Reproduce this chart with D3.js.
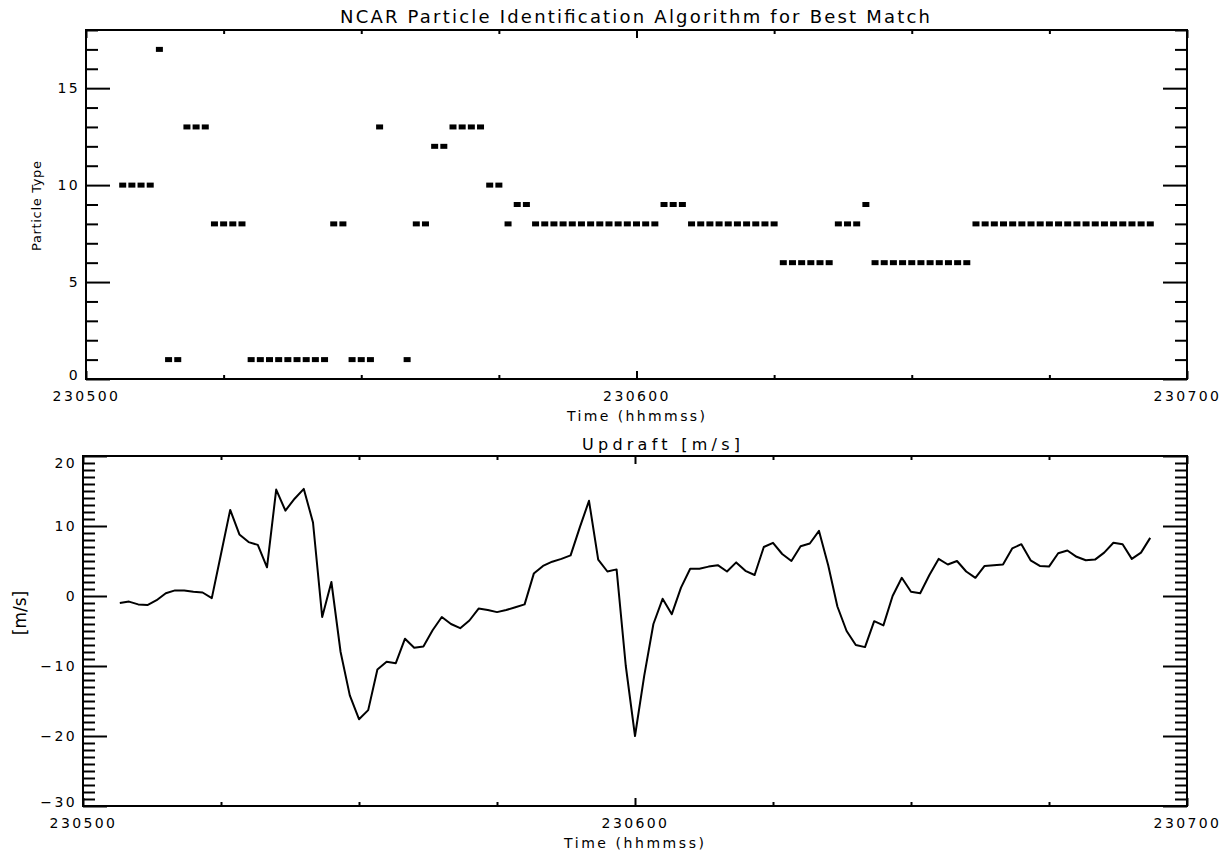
<!DOCTYPE html>
<html lang="en">
<head>
<meta charset="UTF-8">
<title>NCAR Particle Identification Algorithm for Best Match</title>
<script src="https://d3js.org/d3.v7.min.js"></script>
<style>
  body { margin: 0; background: #ffffff; }
  text { font-family: "DejaVu Sans", sans-serif; fill: #000; }
</style>
</head>
<body>
<div id="chart"></div>
<script>

// time is in seconds after 23:05:00
const typeTime = [4, 5, 6, 7, 8, 9, 10, 11, 12, 13, 14, 15, 16, 17, 18, 19, 20, 21, 22, 23, 24, 25, 26, 27, 28, 29, 30, 31, 32,
    35, 36, 37, 38, 39, 40, 41, 42, 43, 44, 45, 46, 47, 48, 49, 50, 51, 52, 53, 54, 55, 56, 57, 58, 59, 60, 61, 62,
    63, 64, 65, 66, 67, 68, 69, 70, 71, 72, 73, 74, 75, 76, 77, 78, 79, 80, 81, 82, 83, 84, 85, 86, 87, 88, 89, 90,
    91, 92, 93, 94, 95, 96, 97, 98, 99, 100, 101, 102, 103, 104, 105, 106, 107, 108, 109, 110, 111, 112, 113, 114, 115, 116];
const typeValue = [10, 10, 10, 10, 17, 1, 1, 13, 13, 13, 8, 8, 8, 8, 1, 1, 1, 1, 1, 1, 1, 1, 1, 8, 8, 1, 1, 1, 13,
    1, 8, 8, 12, 12, 13, 13, 13, 13, 10, 10, 8, 9, 9, 8, 8, 8, 8, 8, 8, 8, 8, 8, 8, 8, 8, 8, 8,
    9, 9, 9, 8, 8, 8, 8, 8, 8, 8, 8, 8, 8, 6, 6, 6, 6, 6, 6, 8, 8, 8, 9, 6, 6, 6, 6, 6,
    6, 6, 6, 6, 6, 6, 8, 8, 8, 8, 8, 8, 8, 8, 8, 8, 8, 8, 8, 8, 8, 8, 8, 8, 8, 8];

const updraftTime = [4, 5, 6, 7, 8, 9, 10, 11, 12, 13, 14, 15, 16, 17, 18, 19, 20, 21, 22, 23, 24, 25, 26, 27, 28, 29, 30,
    31, 32, 33, 34, 35, 36, 37, 38, 39, 40, 41, 42, 43, 44, 45, 46, 47, 48, 49, 50, 51, 52, 53, 54, 55, 56, 57, 58, 59, 60,
    61, 62, 63, 64, 65, 66, 67, 68, 69, 70, 71, 72, 73, 74, 75, 76, 77, 78, 79, 80, 81, 82, 83, 84, 85, 86, 87, 88, 89, 90,
    91, 92, 93, 94, 95, 96, 97, 98, 99, 100, 101, 102, 103, 104, 105, 106, 107, 108, 109, 110, 111, 112, 113, 114, 115, 116];
const updraftValue = [-1.0, -0.8, -1.2, -1.3, -0.6, 0.4, 0.8, 0.8, 0.6, 0.5, -0.3, 6.0, 12.3, 8.8, 7.7, 7.3, 4.1,
    15.2, 12.2, 13.9, 15.3, 10.5, -3.0, 2.0, -8.0, -14.2, -17.6, -16.3, -10.5, -9.4, -9.6, -6.1, -7.4, -7.2, -4.9,
    -3.0, -4.0, -4.6, -3.5, -1.8, -2.0, -2.3, -2.0, -1.6, -1.2, 3.2, 4.3, 4.9, 5.3, 5.8, 9.8, 13.6, 5.2, 3.5, 3.8,
    -10.0, -20.0, -11.4, -4.0, -0.4, -2.6, 1.2, 3.9, 3.9, 4.2, 4.4, 3.5, 4.8, 3.6, 3.0, 7.0, 7.6, 6.0, 5.0, 7.1,
    7.5, 9.3, 4.4, -1.5, -5.0, -7.0, -7.3, -3.6, -4.2, 0.0, 2.6, 0.6, 0.4, 3.0, 5.3, 4.5, 5.0, 3.5, 2.6, 4.3,
    4.4, 4.5, 6.8, 7.4, 5.1, 4.3, 4.2, 6.1, 6.5, 5.6, 5.1, 5.2, 6.2, 7.6, 7.4, 5.3, 6.2, 8.3];

const timeTicks = [0, 60, 120];
const timeLabels = ["230500", "230600", "230700"];
const timeMinor = [15, 30, 45, 75, 90, 105];
const typeTicks = [0, 5, 10, 15];
const updraftTicks = [-30, -20, -10, 0, 10, 20];

const width = 1228, height = 852;

const svg = d3.select("#chart")
    .append("svg")
    .attr("width", width)
    .attr("height", height);

// draws the frame, ticks and labels of one panel and returns its scales
function panel(box, yDomain, yMajor, yStep) {
    const x = d3.scaleLinear().domain([0, 120]).range([box.left, box.right]);
    const y = d3.scaleLinear().domain(yDomain).range([box.bottom, box.top]);
    const yMinor = d3.range(yDomain[0], yDomain[1] + 0.001, yStep).filter(v => !yMajor.includes(v));

    const g = svg.append("g");

    const ax = (sel) => sel.attr("font-size", 14)
        .attr("font-family", '"DejaVu Sans", sans-serif')
        .attr("letter-spacing", "2.4px")
        .call(s => s.selectAll("line").attr("stroke", "#000").attr("stroke-width", 2))
        .call(s => s.select(".domain").remove());

    // x ticks, bottom and top
    g.append("g").attr("transform", `translate(0,${box.bottom})`)
        .call(d3.axisBottom(x).tickValues(timeMinor).tickSize(-4).tickFormat("")).call(ax);
    g.append("g").attr("transform", `translate(0,${box.bottom})`)
        .call(d3.axisBottom(x).tickValues(timeTicks).tickSize(-8).tickPadding(12)
            .tickFormat((d, i) => timeLabels[i])).call(ax);
    g.append("g").attr("transform", `translate(0,${box.top})`)
        .call(d3.axisTop(x).tickValues(timeMinor).tickSize(-4).tickFormat("")).call(ax);
    g.append("g").attr("transform", `translate(0,${box.top})`)
        .call(d3.axisTop(x).tickValues(timeTicks).tickSize(-8).tickFormat("")).call(ax);

    // y ticks, left and right
    g.append("g").attr("transform", `translate(${box.left},0)`)
        .call(d3.axisLeft(y).tickValues(yMinor).tickSize(-12).tickFormat("")).call(ax);
    g.append("g").attr("transform", `translate(${box.left},0)`)
        .call(d3.axisLeft(y).tickValues(yMajor).tickSize(-24).tickPadding(6)
            .tickFormat(d => d < 0 ? "\u2212" + Math.abs(d) : String(d))).call(ax)
        .selectAll("text")
        .attr("y", d => Math.max(box.top + 7, Math.min(box.bottom - 4, y(d))) - y(d));
    g.append("g").attr("transform", `translate(${box.right},0)`)
        .call(d3.axisRight(y).tickValues(yMinor).tickSize(-12).tickFormat("")).call(ax);
    g.append("g").attr("transform", `translate(${box.right},0)`)
        .call(d3.axisRight(y).tickValues(yMajor).tickSize(-24).tickFormat("")).call(ax);

    g.append("rect")
        .attr("x", box.left).attr("y", box.top)
        .attr("width", box.right - box.left).attr("height", box.bottom - box.top)
        .attr("fill", "none").attr("stroke", "#000").attr("stroke-width", 2);

    return { x, y, g };
}

// ---- top panel: particle type
const typePanel = panel({ left: 86, right: 1187, top: 30, bottom: 379 }, [0, 18], typeTicks, 1);

typePanel.g.selectAll("rect.pt")
    .data(typeTime)
    .join("rect")
    .attr("class", "pt")
    .attr("x", d => typePanel.x(d) - 3.5)
    .attr("y", (d, i) => typePanel.y(typeValue[i]) - 2.5)
    .attr("width", 7)
    .attr("height", 5)
    .attr("fill", "#000");

svg.append("text")
    .attr("x", 635).attr("y", 23)
    .attr("text-anchor", "middle")
    .attr("font-size", 18)
    .attr("textLength", 590)
    .attr("lengthAdjust", "spacing")
    .text("NCAR Particle Identification Algorithm for Best Match");

svg.append("text")
    .attr("x", 636).attr("y", 421)
    .attr("text-anchor", "middle")
    .attr("font-size", 14)
    .attr("textLength", 138)
    .attr("lengthAdjust", "spacing")
    .text("Time (hhmmss)");

svg.append("text")
    .attr("transform", "translate(41,206) rotate(-90)")
    .attr("text-anchor", "middle")
    .attr("font-size", 13)
    .attr("textLength", 90)
    .attr("lengthAdjust", "spacing")
    .text("Particle Type");

// ---- bottom panel: updraft
const updraftPanel = panel({ left: 83, right: 1187, top: 456, bottom: 806 }, [-30, 20], updraftTicks, 1);

const line = d3.line()
    .x(d => updraftPanel.x(d))
    .y((d, i) => updraftPanel.y(updraftValue[i]));

updraftPanel.g.append("path")
    .datum(updraftTime)
    .attr("d", line)
    .attr("fill", "none")
    .attr("stroke", "#000")
    .attr("stroke-width", 2)
    .attr("stroke-linejoin", "round");

svg.append("text")
    .attr("x", 661).attr("y", 450)
    .attr("text-anchor", "middle")
    .attr("font-size", 16)
    .attr("textLength", 158)
    .attr("lengthAdjust", "spacing")
    .text("Updraft [m/s]");

svg.append("text")
    .attr("x", 634).attr("y", 848)
    .attr("text-anchor", "middle")
    .attr("font-size", 14)
    .attr("textLength", 140)
    .attr("lengthAdjust", "spacing")
    .text("Time (hhmmss)");

svg.append("text")
    .attr("transform", "translate(26,613) rotate(-90)")
    .attr("text-anchor", "middle")
    .attr("font-size", 17)
    .text("[m/s]");

</script>
</body>
</html>
